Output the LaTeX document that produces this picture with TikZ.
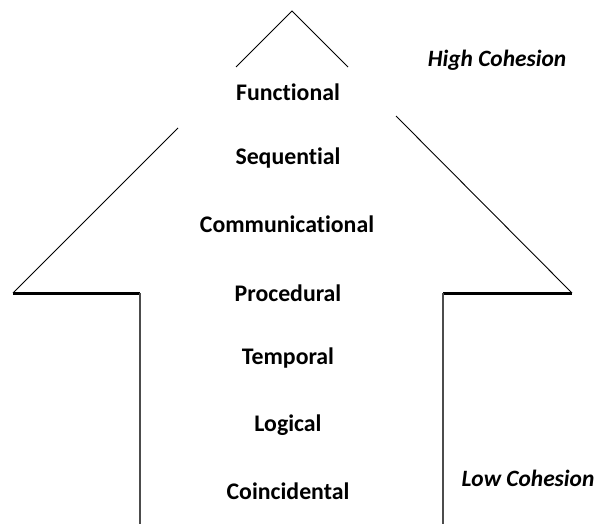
\documentclass[tikz,border=0pt]{standalone}
\usepackage{fontspec}
\setmainfont[Ligatures=NoCommon]{Carlito}
\begin{document}
\begin{tikzpicture}[x=1pt,y=-1pt,
  lvl/.style={font=\fontsize{23.8}{27}\selectfont\bfseries, inner sep=0pt},
  cohesion/.style={font=\fontsize{23.4}{27}\selectfont\bfseries\itshape, inner sep=0pt},
  thin/.style={line width=0.9pt, black},
  thick/.style={line width=3pt, black},
  side/.style={line width=1.3pt, black!70}]
\useasboundingbox (0,0) rectangle (595,524);
% coordinates of outline
\coordinate (apex) at (292,11);
\coordinate (ls) at (236,67);
\coordinate (rs) at (348,67);
\coordinate (lt) at (178,128);
\coordinate (rt) at (396,116);
\coordinate (lc) at (13,293);
\coordinate (rc) at (572,293);
\coordinate (li) at (140,293);
\coordinate (ri) at (443,293);
\coordinate (lb) at (140,524);
\coordinate (rb) at (443,524);
\draw[thin] (ls) -- (apex) -- (rs);
\draw[thin] (lt) -- (lc);
\draw[thin] (rt) -- (rc);
\draw[thick] (lc) -- (li);
\draw[thick] (ri) -- (rc);
\draw[side] (li) -- (lb);
\draw[side] (ri) -- (rb);
% labels
\node[lvl] (f) at (288,92) {Functional};
\node[lvl] (s) at (288,158) {Sequential};
\node[lvl] (c) at (287,224) {Communicational};
\node[lvl] (p) at (288,293) {Procedural};
\node[lvl] (t) at (288,358) {Temporal};
\node[lvl] (l) at (288,425) {Logical};
\node[lvl] (co) at (288,491) {Coincidental};
\node[cohesion] (hc) at (497,60) {High Cohesion};
\node[cohesion] (lo) at (528,478) {Low Cohesion};
\end{tikzpicture}
\end{document}
